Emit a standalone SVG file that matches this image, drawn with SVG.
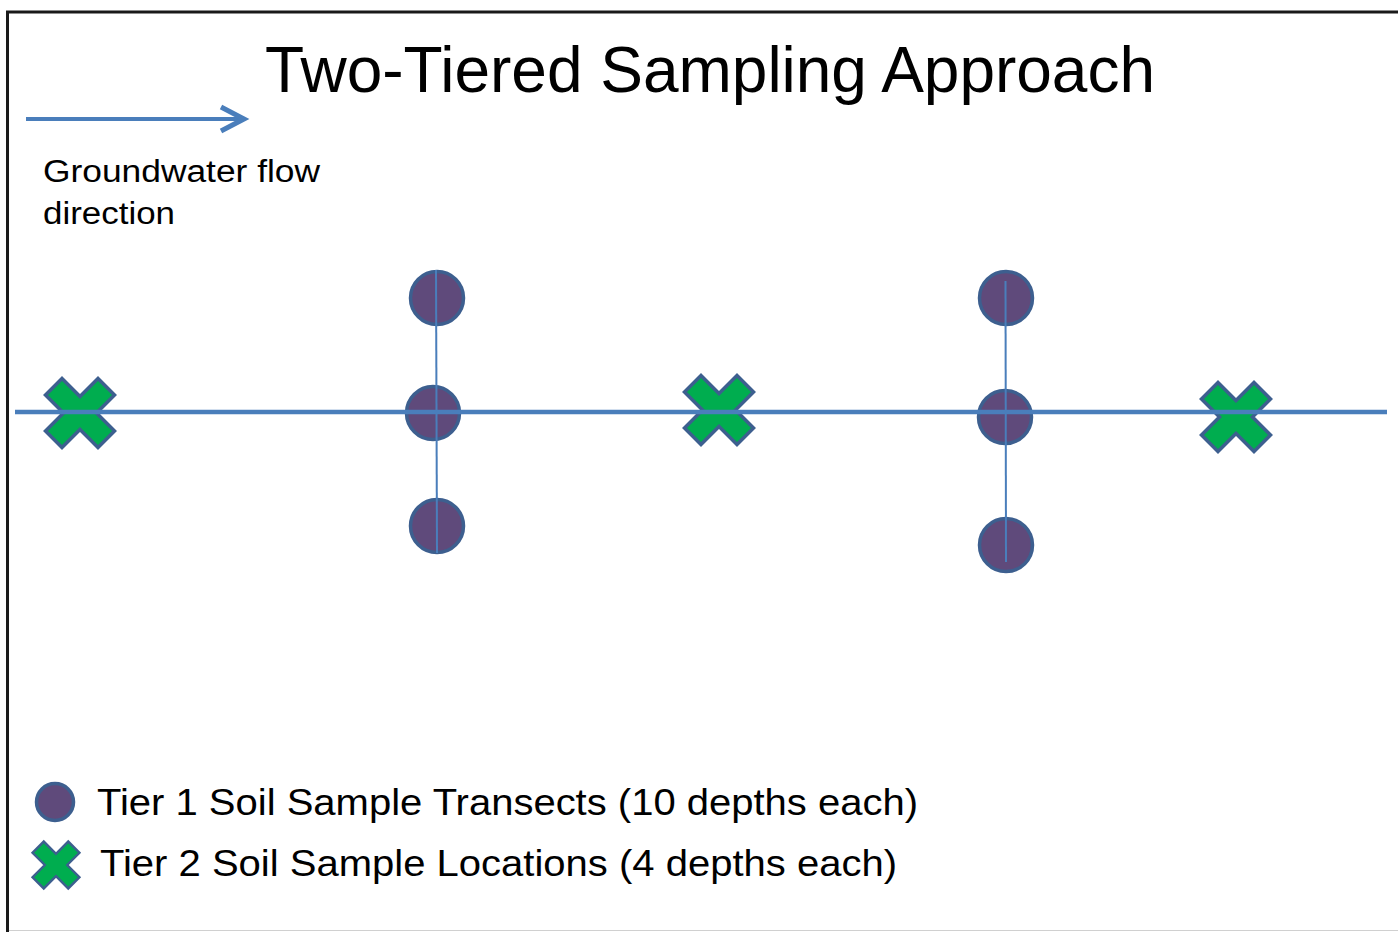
<svg xmlns="http://www.w3.org/2000/svg" width="1398" height="932" viewBox="0 0 1398 932">
<style>
.t1{fill:#5f4a7b;stroke:#3d5f8f;stroke-width:3.5}
.t2{fill:#00ad4f;stroke:#3d5f8f;stroke-width:3.5;stroke-linejoin:miter}
.txt{font-family:"Liberation Sans",Arial,sans-serif;fill:#000}
.ln{stroke:#4a7ebb;fill:none}
</style>
<defs>
<polygon id="xmark" points="0,-16.5 18,-34.5 34.5,-18 16.5,0 34.5,18 18,34.5 0,16.5 -18,34.5 -34.5,18 -16.5,0 -34.5,-18 -18,-34.5"/>
</defs>
<rect width="1398" height="932" fill="#fff"/>
<g id="frame">
<line x1="6" y1="12" x2="1398" y2="12" stroke="#1a1a1a" stroke-width="3"/>
<line x1="7.5" y1="11" x2="7.5" y2="932" stroke="#1a1a1a" stroke-width="3"/>
<line x1="9" y1="930.5" x2="1398" y2="930.5" stroke="#d0d0d0" stroke-width="1"/>
</g>
<g id="title"><text class="txt" x="265" y="92" font-size="64" textLength="890" lengthAdjust="spacing">Two-Tiered Sampling Approach</text></g>
<g id="flow">
<line class="ln" x1="26" y1="119" x2="243" y2="119" stroke-width="4"/>
<polyline class="ln" points="221,107 244,119 221,131" stroke-width="5"/>
<text class="txt" x="43" y="182" font-size="31" textLength="277" lengthAdjust="spacingAndGlyphs">Groundwater flow</text>
<text class="txt" x="43" y="224" font-size="31" textLength="132" lengthAdjust="spacingAndGlyphs">direction</text>
</g>
<g id="tier2-a"><use href="#xmark" class="t2" transform="translate(80,413)"/></g>
<g id="tier1-a1"><circle class="t1" cx="437" cy="298" r="26.5"/></g>
<g id="tier1-a2"><circle class="t1" cx="433" cy="413" r="26.5"/></g>
<g id="tier1-a3"><circle class="t1" cx="437" cy="526" r="26.5"/></g>
<g id="tier2-b"><use href="#xmark" class="t2" transform="translate(719,410)"/></g>
<g id="tier1-b1"><circle class="t1" cx="1006" cy="298" r="26.5"/></g>
<g id="tier1-b2"><circle class="t1" cx="1005" cy="417" r="26.5"/></g>
<g id="tier1-b3"><circle class="t1" cx="1006" cy="545" r="26.5"/></g>
<g id="tier2-c"><use href="#xmark" class="t2" transform="translate(1236,417)"/></g>
<g id="connectors">
<line class="ln" x1="436" y1="270" x2="437" y2="553" stroke-width="2"/>
<line class="ln" x1="1005.5" y1="281" x2="1006" y2="562" stroke-width="2"/>
<line class="ln" x1="15" y1="412" x2="1387" y2="412" stroke-width="4.5"/>
</g>
<g id="legend">
<circle class="t1" cx="55" cy="802" r="18.5"/>
<use href="#xmark" class="t2" transform="translate(56,865) scale(0.68)"/>
<text class="txt" x="97" y="815" font-size="37" textLength="821" lengthAdjust="spacingAndGlyphs">Tier 1 Soil Sample Transects (10 depths each)</text>
<text class="txt" x="100" y="876" font-size="37" textLength="797" lengthAdjust="spacingAndGlyphs">Tier 2 Soil Sample Locations (4 depths each)</text>
</g>
</svg>
